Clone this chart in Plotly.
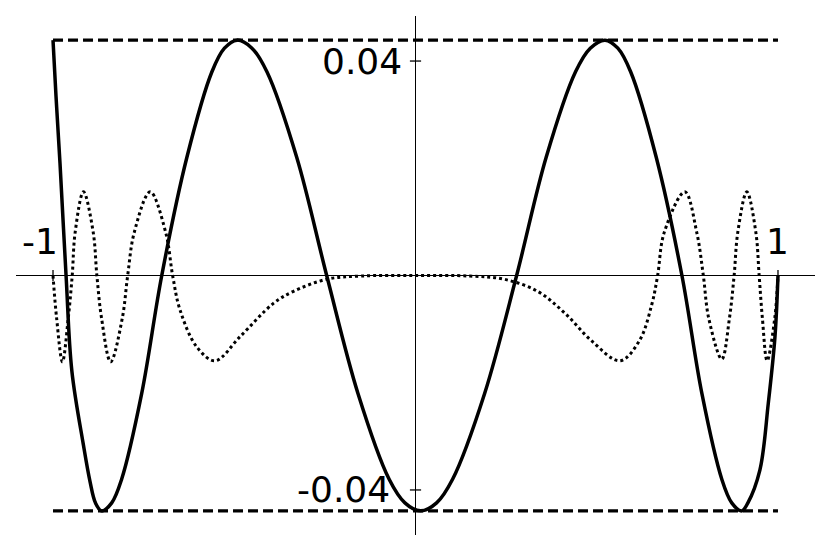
import plotly.graph_objects as go

# Solid curve (error of the approximation)
solid_x = [-1.0, -0.9917, -0.9807, -0.964, -0.948, -0.9164, -0.898, -0.883, -0.866,
           -0.838, -0.8107, -0.7553, -0.700, -0.6308, -0.5616, -0.527, -0.4924,
           -0.4512, -0.4099, -0.3275, -0.245, -0.1587, -0.0727, -0.0292, 0.014,
           0.0582, 0.1023, 0.1907, 0.279, 0.3603, 0.4415, 0.4822, 0.5228,
           0.5582, 0.5935, 0.6643, 0.735, 0.790, 0.845, 0.8724, 0.8999,
           0.917, 0.950, 0.9733, 0.9917, 1.0]
solid_y = [0.0439, 0.0334, 0.0209, 0.0, -0.0178, -0.0315, -0.0384, -0.0424, -0.0439,
           -0.0424, -0.038, -0.022, 0.0, 0.022, 0.038, 0.0424, 0.0439,
           0.0424, 0.038, 0.022, 0.0, -0.022, -0.038, -0.0424, -0.0439,
           -0.0424, -0.038, -0.022, 0.0, 0.022, 0.038, 0.0424, 0.0439,
           0.0424, 0.038, 0.022, 0.0, -0.022, -0.038, -0.0424, -0.0439,
           -0.0424, -0.0363, -0.0238, -0.0114, 0.0]

# Dotted curve
dot_x = [-1.0, -0.990, -0.974, -0.958, -0.947, -0.939, -0.916, -0.889, -0.879,
         -0.866, -0.841, -0.809, -0.794, -0.776, -0.732, -0.689, -0.670,
         -0.6497, -0.6036, -0.553, -0.484, -0.392, -0.338, -0.245, -0.15, 0.0,
         0.15, 0.245, 0.338, 0.4124, 0.486, 0.564, 0.6174, 0.6515, 0.668,
         0.686, 0.743, 0.776, 0.794, 0.809, 0.845, 0.866, 0.879,
         0.889, 0.914, 0.939, 0.948, 0.957, 0.970, 0.991, 1.0]
dot_y = [0.0, -0.008, -0.0161, -0.008, 0.0, 0.008, 0.0156, 0.008, 0.0,
         -0.008, -0.0161, -0.008, 0.0, 0.008, 0.0156, 0.008, 0.0,
         -0.0064, -0.0133, -0.0159, -0.0114, -0.0052, -0.0030, -0.0007, -0.0001, 0.0,
         -0.0001, -0.0007, -0.0030, -0.00705, -0.0122, -0.0159, -0.0122, -0.0055, 0.0,
         0.008, 0.0156, 0.008, 0.0, -0.008, -0.0156, -0.008, 0.0,
         0.008, 0.0156, 0.008, 0.0, -0.008, -0.0159, -0.008, 0.0]

# Error bounds (dashed)
bound_x = [-1.0, 1.0]
bound_level = 0.0439

# Tick values and labels
xtick_vals = [-1, 1]
xtick_text = ["-1", "1"]
ytick_vals = [0.04, -0.04]
ytick_text = ["0.04", "-0.04"]

fig = go.Figure()

for lvl in (bound_level, -bound_level):
    fig.add_trace(go.Scatter(x=bound_x, y=[lvl, lvl], mode="lines",
                             line=dict(color="black", width=3.3, dash="10px,5px"),
                             hoverinfo="skip"))

fig.add_trace(go.Scatter(x=dot_x, y=dot_y, mode="lines",
                         line=dict(color="black", width=3, dash="dot",
                                   shape="spline", smoothing=1),
                         hoverinfo="skip"))

fig.add_trace(go.Scatter(x=solid_x, y=solid_y, mode="lines",
                         line=dict(color="black", width=3.5,
                                   shape="spline", smoothing=1),
                         hoverinfo="skip"))

# tick marks at the axes crossing
fig.add_trace(go.Scatter(x=[0] * len(ytick_vals), y=ytick_vals, mode="markers",
                         marker=dict(symbol="line-ew", size=8,
                                     line=dict(color="black", width=1.3)),
                         hoverinfo="skip"))
fig.add_trace(go.Scatter(x=xtick_vals, y=[0] * len(xtick_vals), mode="markers",
                         marker=dict(symbol="line-ns", size=8,
                                     line=dict(color="black", width=1.3)),
                         hoverinfo="skip"))

font = dict(family="DejaVu Sans", size=36, color="black")
annotations = []
for v, t in zip(xtick_vals, xtick_text):
    annotations.append(dict(x=v, y=0, text=t, showarrow=False, font=font,
                            xanchor="center", yanchor="middle",
                            xshift=-13 if v < 0 else 0, yshift=34))
for v, t in zip(ytick_vals, ytick_text):
    annotations.append(dict(x=0, y=v, text=t, showarrow=False, font=font,
                            xanchor="right", yanchor="middle",
                            xshift=-12 if v > 0 else -24, yshift=0))

# page body has an 8px default margin, so the figure is offset by 8px
fig.update_layout(
    width=815, height=536,
    margin=dict(l=8, r=8, t=8, b=9),
    paper_bgcolor="white", plot_bgcolor="white",
    showlegend=False,
    annotations=annotations,
    xaxis=dict(range=[-1.1021, 1.1021], showgrid=False, showticklabels=False,
               ticks="", zeroline=True, zerolinecolor="black", zerolinewidth=1.3,
               showline=False, fixedrange=True),
    yaxis=dict(range=[-0.0484, 0.0484], showgrid=False, showticklabels=False,
               ticks="", zeroline=True, zerolinecolor="black", zerolinewidth=1.3,
               showline=False, fixedrange=True),
)

fig.write_html("out.html", config={"displayModeBar": False})
